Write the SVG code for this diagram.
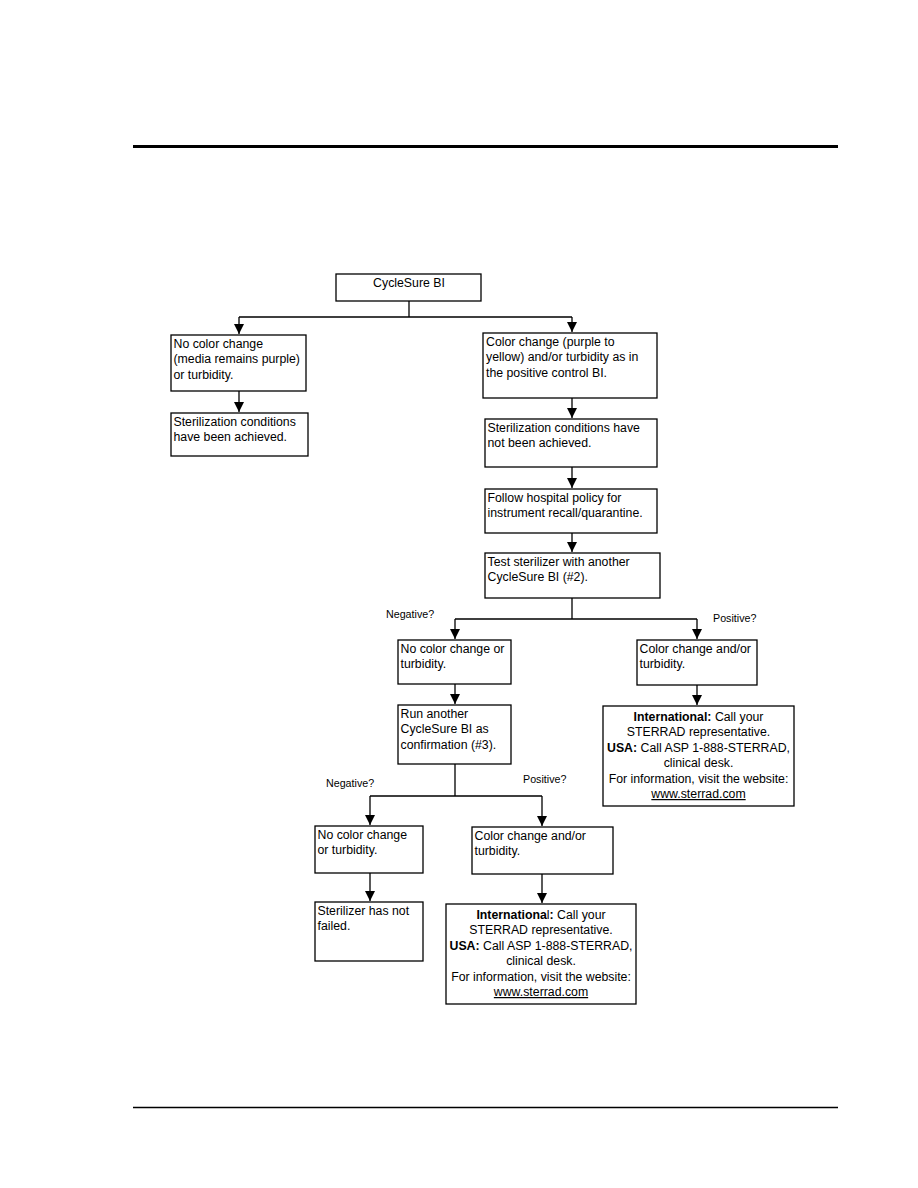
<svg xmlns="http://www.w3.org/2000/svg" width="918" height="1188" viewBox="0 0 918 1188">
<defs>
<style>
.box{fill:#fff;stroke:#000;stroke-width:1.3}
.t{font-family:"Liberation Sans",Arial,sans-serif;font-size:12.3px;fill:#000}
.c{text-anchor:middle}
.lbl{font-family:"Liberation Sans",Arial,sans-serif;font-size:10.7px;fill:#000}
.b{font-weight:bold}
.ln{fill:none;stroke:#000;stroke-width:1.3}
</style>
<marker id="ah" viewBox="0 0 10 10" refX="10" refY="5" markerWidth="10" markerHeight="10" markerUnits="userSpaceOnUse" orient="auto">
<path d="M0,0 L10,5 L0,10 Z" fill="#000"/>
</marker>
</defs>
<rect width="918" height="1188" fill="#fff"/>
<rect x="133" y="145" width="705" height="3" fill="#000"/>
<line x1="133" y1="1107.5" x2="838" y2="1107.5" stroke="#000" stroke-width="1.3"/>

<g id="connectors">
<path class="ln" d="M409,301 V317 M239,317 H572"/>
<path class="ln" d="M239,317 V334" marker-end="url(#ah)"/>
<path class="ln" d="M572,317 V332" marker-end="url(#ah)"/>
<path class="ln" d="M239,391 V412" marker-end="url(#ah)"/>
<path class="ln" d="M572,398 V418" marker-end="url(#ah)"/>
<path class="ln" d="M572,467 V488" marker-end="url(#ah)"/>
<path class="ln" d="M572,533 V552" marker-end="url(#ah)"/>
<path class="ln" d="M572,598 V619 M455,619 H697"/>
<path class="ln" d="M455,619 V639" marker-end="url(#ah)"/>
<path class="ln" d="M697,619 V639" marker-end="url(#ah)"/>
<path class="ln" d="M455,684 V704" marker-end="url(#ah)"/>
<path class="ln" d="M697,685 V705" marker-end="url(#ah)"/>
<path class="ln" d="M455,764 V796 M370,796 H542"/>
<path class="ln" d="M370,796 V825" marker-end="url(#ah)"/>
<path class="ln" d="M542,796 V826" marker-end="url(#ah)"/>
<path class="ln" d="M370,873 V901" marker-end="url(#ah)"/>
<path class="ln" d="M542,874 V903" marker-end="url(#ah)"/>
<text class="lbl" x="386" y="618">Negative?</text>
<text class="lbl" x="713" y="622">Positive?</text>
<text class="lbl" x="326" y="787">Negative?</text>
<text class="lbl" x="523" y="783">Positive?</text>
</g>

<g id="n-start">
<rect class="box" x="336" y="274" width="145" height="27"/>
<text class="t c" x="409" y="286.5">CycleSure BI</text>
</g>

<g id="n-nochange1">
<rect class="box" x="171" y="335" width="135" height="56"/>
<text class="t" x="173.5" y="347.5">No color change</text>
<text class="t" x="173.5" y="363">(media remains purple)</text>
<text class="t" x="173.5" y="378.5">or turbidity.</text>
</g>

<g id="n-achieved">
<rect class="box" x="171" y="413" width="137" height="43"/>
<text class="t" x="173.5" y="425.5">Sterilization conditions</text>
<text class="t" x="173.5" y="441">have been achieved.</text>
</g>

<g id="n-change1">
<rect class="box" x="483" y="333" width="174" height="65"/>
<text class="t" x="486" y="345.5">Color change (purple to</text>
<text class="t" x="486" y="361">yellow) and/or turbidity as in</text>
<text class="t" x="486" y="376.5">the positive control BI.</text>
</g>

<g id="n-notachieved">
<rect class="box" x="485" y="419" width="172" height="48"/>
<text class="t" x="487.5" y="431.5">Sterilization conditions have</text>
<text class="t" x="487.5" y="447">not been achieved.</text>
</g>

<g id="n-policy">
<rect class="box" x="485" y="489" width="172" height="44"/>
<text class="t" x="487.5" y="501.5">Follow hospital policy for</text>
<text class="t" x="487.5" y="517">instrument recall/quarantine.</text>
</g>

<g id="n-test2">
<rect class="box" x="485" y="553" width="175" height="45"/>
<text class="t" x="487.5" y="565.5">Test sterilizer with another</text>
<text class="t" x="487.5" y="581">CycleSure BI (#2).</text>
</g>

<g id="n-neg2">
<rect class="box" x="398" y="640" width="113" height="44"/>
<text class="t" x="400.5" y="652.5">No color change or</text>
<text class="t" x="400.5" y="668">turbidity.</text>
</g>

<g id="n-pos2">
<rect class="box" x="637" y="640" width="120" height="45"/>
<text class="t" x="639.5" y="652.5">Color change and/or</text>
<text class="t" x="639.5" y="668">turbidity.</text>
</g>

<g id="n-run3">
<rect class="box" x="398" y="705" width="113" height="59"/>
<text class="t" x="400.5" y="717.5">Run another</text>
<text class="t" x="400.5" y="733">CycleSure BI as</text>
<text class="t" x="400.5" y="748.5">confirmation (#3).</text>
</g>

<g id="n-contact1">
<rect class="box" x="603" y="706" width="191" height="100"/>
<text class="t c" x="698.5" y="720.5"><tspan class="b">International:</tspan> Call your</text>
<text class="t c" x="698.5" y="736">STERRAD representative.</text>
<text class="t c" x="698.5" y="751.5"><tspan class="b">USA:</tspan> Call ASP 1-888-STERRAD,</text>
<text class="t c" x="698.5" y="767">clinical desk.</text>
<text class="t c" x="698.5" y="782.5">For information, visit the website:</text>
<text class="t c" x="698.5" y="798" text-decoration="underline">www.sterrad.com</text>
</g>

<g id="n-neg3">
<rect class="box" x="315" y="826" width="108" height="47"/>
<text class="t" x="317.5" y="838.5">No color change</text>
<text class="t" x="317.5" y="854">or turbidity.</text>
</g>

<g id="n-pos3">
<rect class="box" x="472" y="827" width="141" height="47"/>
<text class="t" x="474.5" y="839.5">Color change and/or</text>
<text class="t" x="474.5" y="855">turbidity.</text>
</g>

<g id="n-notfailed">
<rect class="box" x="315" y="902" width="108" height="59"/>
<text class="t" x="317.5" y="914.5">Sterilizer has not</text>
<text class="t" x="317.5" y="930">failed.</text>
</g>

<g id="n-contact2">
<rect class="box" x="446" y="904" width="190" height="100"/>
<text class="t c" x="541" y="918.5"><tspan class="b">Internationa</tspan>l<tspan class="b">:</tspan> Call your</text>
<text class="t c" x="541" y="934">STERRAD representative.</text>
<text class="t c" x="541" y="949.5"><tspan class="b">USA:</tspan> Call ASP 1-888-STERRAD,</text>
<text class="t c" x="541" y="965">clinical desk.</text>
<text class="t c" x="541" y="980.5">For information, visit the website:</text>
<text class="t c" x="541" y="996" text-decoration="underline">www.sterrad.com</text>
</g>
</svg>
